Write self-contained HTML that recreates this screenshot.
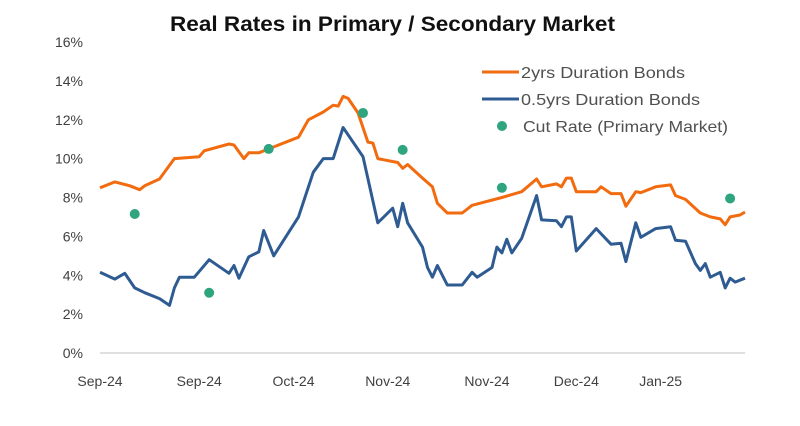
<!DOCTYPE html>
<html><head><meta charset="utf-8"><style>
html,body{margin:0;padding:0;background:#fff;}
svg{display:block;font-family:"Liberation Sans",sans-serif;}
</style></head><body>
<svg id="chart" width="800" height="426">
<text x="170" y="31" font-size="21" font-weight="bold" fill="#111" textLength="445" lengthAdjust="spacingAndGlyphs">Real Rates in Primary / Secondary Market</text>
<g id="yaxis"></g>
<g id="xaxis"></g>
<line x1="100" y1="353" x2="745" y2="353" stroke="#bfbfbf" stroke-width="1"/>
<g id="series"></g>
<g>
<g><line x1="482" y1="72" x2="519" y2="72" stroke="#f26b0f" stroke-width="3"/><text x="521" y="78" font-size="16" fill="#505050" textLength="164" lengthAdjust="spacingAndGlyphs">2yrs Duration Bonds</text></g>
<g><line x1="482" y1="99" x2="519" y2="99" stroke="#2f5b93" stroke-width="3"/><text x="521" y="105" font-size="16" fill="#505050" textLength="179" lengthAdjust="spacingAndGlyphs">0.5yrs Duration Bonds</text></g>
<g><circle cx="502" cy="126" r="5" fill="#2fa57f"/><text x="523" y="132" font-size="16" fill="#505050" textLength="205" lengthAdjust="spacingAndGlyphs">Cut Rate (Primary Market)</text></g>
</g>
</svg>
<script>
const yTicks=[0,2,4,6,8,10,12,14,16];
const xTickDays=[0,20,39,58,78,96,113];
const xTickLabels=["Sep-24","Sep-24","Oct-24","Nov-24","Nov-24","Dec-24","Jan-25"];
const orangeDays=[0,3,6,8,9,12,15,20,21,26,27,29,30,32,34,40,42,45,47,48,49,50,52,54,55,56,60,61,62,65,67,68,70,73,75,81,85,88,89,92,93,94,95,96,100,101,103,105,106,108,109,112,115,116,118,121,123,125,126,127,129,130];
const orangeVals=[8.5,8.8,8.6,8.4,8.6,8.95,10.0,10.1,10.4,10.75,10.7,10.0,10.3,10.3,10.5,11.1,12.0,12.4,12.75,12.7,13.2,13.1,12.35,10.85,10.8,10.0,9.8,9.5,9.7,9.0,8.55,7.7,7.2,7.2,7.6,8.0,8.3,8.95,8.55,8.7,8.55,9.0,9.0,8.3,8.3,8.55,8.2,8.2,7.55,8.3,8.25,8.55,8.65,8.1,7.9,7.2,7.0,6.9,6.6,7.0,7.1,7.25];
const blueDays=[0,3,5,7,9,12,14,15,16,19,22,26,27,28,30,32,33,35,40,43,45,47,49,53,56,59,60,61,62,65,66,67,68,70,73,75,76,79,80,81,82,83,85,88,89,92,93,94,95,96,100,103,105,106,108,109,112,115,116,118,120,121,122,123,125,126,127,128,130];
const blueVals=[4.15,3.8,4.1,3.35,3.1,2.8,2.45,3.35,3.9,3.9,4.8,4.1,4.5,3.85,4.95,5.2,6.3,5.0,7.0,9.3,10.0,10.0,11.6,10.1,6.7,7.45,6.5,7.7,6.7,5.45,4.4,3.9,4.5,3.5,3.5,4.15,3.9,4.4,5.45,5.15,5.85,5.15,5.9,8.1,6.85,6.8,6.5,7.0,7.0,5.25,6.4,5.6,5.65,4.7,6.7,5.95,6.4,6.5,5.8,5.75,4.6,4.25,4.6,3.9,4.15,3.35,3.85,3.65,3.85];
const cutDays=[7,22,34,53,61,81,127];
const cutVals=[7.15,3.1,10.5,12.35,10.45,8.5,7.95];

const NS="http://www.w3.org/2000/svg";
const X=d=>100+d*(645/130);
const Y=v=>353-v*(311/16);
const ya=document.getElementById('yaxis'),xa=document.getElementById('xaxis'),sg=document.getElementById('series');
yTicks.forEach(t=>{const e=document.createElementNS(NS,'text');
e.setAttribute('x',83);e.setAttribute('y',Y(t)+5);e.setAttribute('text-anchor','end');e.setAttribute('font-size','14');e.setAttribute('fill','#404040');e.textContent=t+'%';


ya.appendChild(e);});
xTickDays.forEach((d,i)=>{const e=document.createElementNS(NS,'text');
e.setAttribute('x',X(d));e.setAttribute('y',386);e.setAttribute('text-anchor','middle');e.setAttribute('font-size','14');e.setAttribute('fill','#404040');e.textContent=xTickLabels[i];


xa.appendChild(e);});
function line(days,vals,color,name){const p=document.createElementNS(NS,'polyline');
p.setAttribute('points',days.map((d,i)=>X(d).toFixed(1)+','+Y(vals[i]).toFixed(1)).join(' '));
p.setAttribute('fill','none');p.setAttribute('stroke',color);p.setAttribute('stroke-width','3');p.setAttribute('stroke-linejoin','round');


sg.appendChild(p);}
line(orangeDays,orangeVals,'#f26b0f','series-2yrs-line');
line(blueDays,blueVals,'#2f5b93','series-0-5yrs-line');
cutDays.forEach((d,i)=>{const c=document.createElementNS(NS,'circle');
c.setAttribute('cx',X(d));c.setAttribute('cy',Y(cutVals[i]));c.setAttribute('r',5);c.setAttribute('fill','#2fa57f');


sg.appendChild(c);});
</script>
</body></html>
